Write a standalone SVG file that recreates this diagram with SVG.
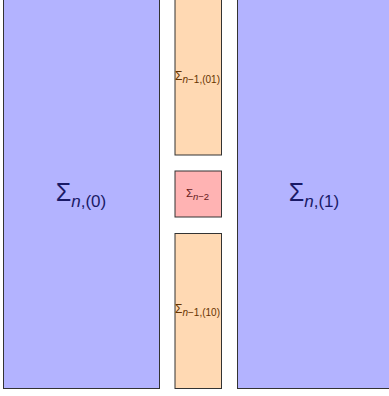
<svg xmlns="http://www.w3.org/2000/svg" width="389" height="396" viewBox="0 0 389 396">
<style>
.b{fill:#b3b3ff;stroke:#333;stroke-width:1}
.o{fill:#ffd9b3;stroke:#333;stroke-width:1}
.r{fill:#ffb3b3;stroke:#333;stroke-width:1}
text{font-family:"Liberation Sans",Arial,sans-serif;text-anchor:middle}
.tb{fill:#1a1a66;font-size:25px}
.to{fill:#663300;font-size:12px}
.tr{fill:#661a1a;font-size:11.5px}
.i{font-style:italic}
</style>
<rect width="389" height="396" fill="#fff"/>
<g id="n0"><rect class="b" x="3.5" y="-5" width="156" height="393.5"/>
<text class="tb" x="81" y="201">Σ<tspan class="i" font-size="17" dy="6">n</tspan><tspan font-size="17">,(0)</tspan></text></g>
<g id="n1"><rect class="b" x="237.5" y="-5" width="160" height="393.5"/>
<text class="tb" x="314" y="201">Σ<tspan class="i" font-size="17" dy="6">n</tspan><tspan font-size="17">,(1)</tspan></text></g>
<g id="n01"><rect class="o" x="175" y="-5" width="46.5" height="160"/>
<text class="to" x="197.5" y="79.5">Σ<tspan class="i" font-size="10" dy="3">n</tspan><tspan font-size="10">−1,(01)</tspan></text></g>
<g id="n2"><rect class="r" x="175" y="171" width="46.5" height="46"/>
<text class="tr" x="197.5" y="197">Σ<tspan class="i" font-size="9.5" dy="3">n</tspan><tspan font-size="9.5">−2</tspan></text></g>
<g id="n10"><rect class="o" x="175" y="233.5" width="46.5" height="155"/>
<text class="to" x="197.5" y="313">Σ<tspan class="i" font-size="10" dy="3">n</tspan><tspan font-size="10">−1,(10)</tspan></text></g>
<g id="connectors"/>
</svg>
